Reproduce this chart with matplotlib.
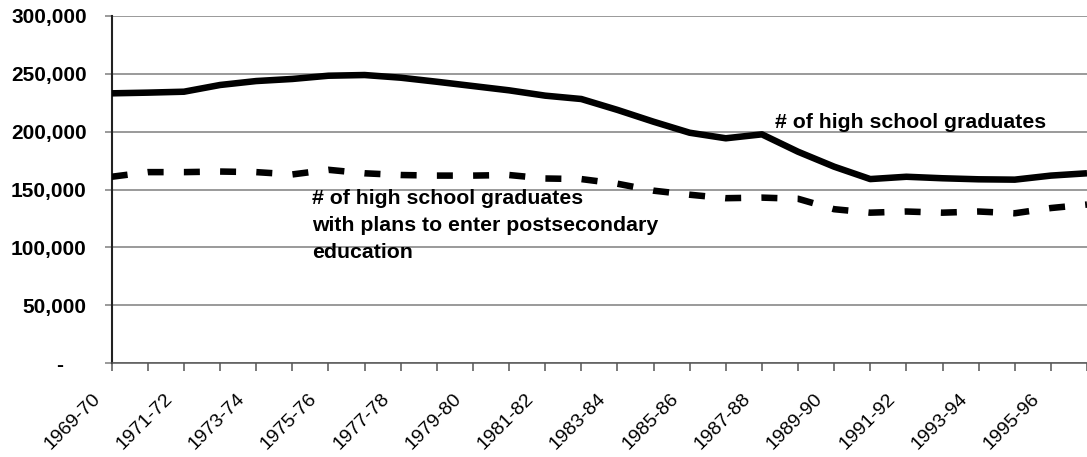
import matplotlib
matplotlib.use("Agg")
import matplotlib.pyplot as plt
import matplotlib.transforms as mtransforms

plt.rcParams['font.family'] = ['Liberation Sans', 'DejaVu Sans']

years = ["1969-70", "1970-71", "1971-72", "1972-73", "1973-74", "1974-75", "1975-76",
         "1976-77", "1977-78", "1978-79", "1979-80", "1980-81", "1981-82", "1982-83",
         "1983-84", "1984-85", "1985-86", "1986-87", "1987-88", "1988-89", "1989-90",
         "1990-91", "1991-92", "1992-93", "1993-94", "1994-95", "1995-96", "1996-97"]

graduates = [233000, 233600, 234400, 240200, 243600, 245400, 248200,
             248800, 246500, 243000, 239300, 235600, 231000, 228100,
             218700, 208500, 199000, 194200, 197600, 182600, 169700,
             159000, 161000, 159700, 158800, 158500, 162000, 164000]

with_plans = [161000, 165000, 165000, 165500, 165000, 163000, 167000,
              164000, 162500, 162000, 162000, 162500, 159500, 159000,
              155000, 149000, 145500, 142500, 143000, 142000, 133000,
              130000, 131000, 130000, 131000, 129500, 134000, 137000]

y_ticks = [0, 50000, 100000, 150000, 200000, 250000, 300000]
y_labels = ["-    ", "50,000", "100,000", "150,000", "200,000", "250,000", "300,000"]

label_main = "# of high school graduates"
label_plans = "# of high school graduates\nwith plans to enter postsecondary\neducation"

W, H = 1087, 457
fig = plt.figure(figsize=(W / 100, H / 100), dpi=100)
left, right, top, bottom = 111.7, 1087, 15.7, 363.3
ax = fig.add_axes([left / W, 1 - bottom / H, (right - left) / W, (bottom - top) / H])

x = list(range(len(years)))
ax.plot(x, graduates, color='black', lw=4.7, solid_joinstyle='round', solid_capstyle='butt', zorder=3)
ax.plot(x, with_plans, color='black', lw=4.7, dashes=(2.45, 3.1), dash_capstyle='butt', zorder=3)

ax.set_xlim(0, len(years) - 1)
ax.set_ylim(0, 300000)

ax.set_yticks(y_ticks, labels=y_labels, fontsize=15, fontweight='bold')
ax.grid(axis='y', color='#7f7f7f', lw=1.1, zorder=1)
ax.set_axisbelow(True)

ax.set_xticks(x, labels=[lab if i % 2 == 0 else "" for i, lab in enumerate(years)],
              rotation=45, ha='right', va='center', rotation_mode='anchor', fontsize=14)
ax.tick_params(axis='x', length=6, width=1.1, color='#555555', pad=10)
ax.tick_params(axis='y', length=5, width=1.1, color='#7f7f7f', pad=13)

shift = mtransforms.ScaledTranslation(-0.14, -0.11, fig.dpi_scale_trans)
for lab in ax.get_xticklabels():
    lab.set_transform(lab.get_transform() + shift)

for s in ['top', 'right']:
    ax.spines[s].set_visible(False)
ax.spines['left'].set_color('#222222')
ax.spines['left'].set_linewidth(1.5)
ax.spines['bottom'].set_color('#555555')
ax.spines['bottom'].set_linewidth(1.1)

ax.text(18.36, 202800, label_main, fontsize=15.3, fontweight='bold', ha='left', va='baseline')
ax.text(5.54, 90900, label_plans, fontsize=15.3, fontweight='bold', ha='left', va='baseline',
        linespacing=1.53)

fig.savefig("out.png", dpi=100)
